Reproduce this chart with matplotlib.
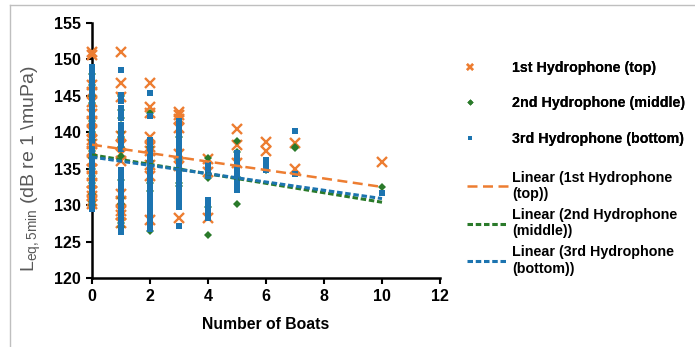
import numpy as np
import matplotlib
matplotlib.use("Agg")
from matplotlib import pyplot as plt
from matplotlib.lines import Line2D

plt.rcParams['font.family'] = ['Liberation Sans', 'DejaVu Sans']

# number of boats -> Leq,5min values
top_levels = {
    0: [151.0, 150.6, 146.5, 145.5, 144.2, 142.5, 141.5, 140.2, 139.0, 138.4,
        137.5, 136.0, 135.0, 134.0, 133.0, 132.0, 131.2, 130.6, 130.1],
    1: [151.0, 146.7, 144.8, 139.5, 138.2, 137.0, 136.0, 131.5, 130.6, 129.2,
        128.6, 127.6],
    2: [146.8, 143.5, 142.6, 139.3, 138.0, 137.4, 135.5, 134.0, 128.0],
    3: [142.8, 142.4, 141.8, 140.6, 137.0, 135.4, 128.2],
    4: [136.3, 134.6, 128.3],
    5: [140.4, 138.2, 135.8],
    6: [138.7, 137.5],
    7: [138.5, 134.9],
    10: [135.9],
}
middle_levels = {
    0: [148.0, 146.5, 145.0, 144.0, 141.5, 140.0, 139.0, 137.5, 136.5, 135.0,
        134.0, 133.0, 131.5, 130.5, 130.0],
    1: [145.0, 143.0, 142.0, 140.0, 139.4, 138.0, 136.8, 133.5, 131.0, 130.2,
        127.5, 127.0],
    2: [142.6, 138.0, 136.0, 133.0, 132.0, 126.5],
    3: [139.3, 136.2, 133.0, 132.6],
    4: [136.5, 133.7, 129.8, 125.9],
    5: [138.8, 137.3, 133.9, 130.2],
    6: [134.8],
    7: [138.0, 137.8],
    10: [132.5],
}
bottom_levels = {
    0: [149.0, 148.4, 147.6, 147.0, 146.2, 145.4, 144.9, 144.3, 143.8, 143.1,
        142.6, 142.0, 141.4, 140.9, 140.3, 139.8, 139.2, 138.7, 138.1, 137.6,
        137.0, 136.4, 135.9, 135.3, 134.8, 134.2, 133.7, 133.1, 132.6, 132.0,
        131.5, 130.9, 130.4, 129.8, 129.5],
    1: [148.5, 145.1, 144.3, 143.4, 142.7, 141.9, 141.0, 140.2, 139.4, 138.5,
        137.7, 134.8, 134.0, 133.2, 132.4, 131.6, 130.8, 130.0, 129.2, 128.4,
        127.6, 126.9, 126.3],
    2: [145.4, 142.2, 139.0, 138.2, 137.4, 136.6, 135.8, 135.0, 134.2, 133.4,
        132.6, 131.8, 131.0, 130.2, 129.4, 128.6, 127.8, 127.0, 126.7],
    3: [141.6, 140.8, 140.0, 139.2, 138.4, 137.6, 136.8, 136.0, 135.2, 134.4,
        133.6, 132.8, 132.0, 131.2, 130.5, 129.8, 127.2],
    4: [135.5, 134.8, 134.0, 130.7, 129.9, 129.1, 128.3],
    5: [137.2, 136.4, 135.6, 134.8, 134.0, 133.2, 132.6, 132.1],
    6: [136.2, 135.5, 134.8],
    7: [140.2, 134.3],
    10: [131.6],
}

# linear trendlines: value at 0 boats and at 10 boats
trend_x = [0, 10]
trend_top = [138.3, 132.5]
trend_middle = [136.9, 130.4]
trend_bottom = [136.6, 130.9]

c_top = "#ED7D31"
c_mid = "#2A7A2A"
c_bot = "#1C74B0"

fig = plt.figure(figsize=(6.95, 3.47), dpi=100)
ax = fig.add_axes([92 / 695, 1 - 278 / 347, 348 / 695, 255 / 347])


def flatten(levels):
    xs, ys = [], []
    for boats, vals in levels.items():
        xs += [boats] * len(vals)
        ys += vals
    return xs, ys


x1, y1 = flatten(top_levels)
x2, y2 = flatten(middle_levels)
x3, y3 = flatten(bottom_levels)

ax.plot(x1, y1, "x", color=c_top, ms=6.5, mew=1.7, clip_on=False, zorder=3,
        label="1st Hydrophone (top)")
ax.plot(x2, y2, "D", color=c_mid, ms=4.2, mew=0, clip_on=False, zorder=4,
        label="2nd Hydrophone (middle)")
ax.plot(x3, y3, "s", color=c_bot, ms=4.5, mew=0, clip_on=False, zorder=5,
        label="3rd Hydrophone (bottom)")

ax.plot(trend_x, trend_top, color=c_top, lw=1.8, dashes=(4, 2.2), zorder=6,
        label="Linear (1st Hydrophone\n(top))")
ax.plot(trend_x, trend_middle, color=c_mid, lw=2.2, dashes=(1.8, 0.9), zorder=6,
        label="Linear (2nd Hydrophone\n(middle))")
ax.plot(trend_x, trend_bottom, color=c_bot, lw=2.2, dashes=(1.8, 0.9), zorder=7,
        label="Linear (3rd Hydrophone\n(bottom))")

ax.set_xlim(0, 12)
ax.set_ylim(120, 155)
ax.set_xticks(np.arange(0, 13, 2))
ax.set_yticks(np.arange(120, 156, 5))
ax.spines["top"].set_visible(False)
ax.spines["right"].set_visible(False)
for s in ("left", "bottom"):
    ax.spines[s].set_linewidth(1.8)
ax.tick_params(direction="out", length=4, width=1.5, labelsize=11.5, pad=4)
for lab in ax.get_xticklabels() + ax.get_yticklabels():
    lab.set_fontweight("bold")

ax.set_xlabel("Number of Boats", fontsize=11.3, fontweight="bold", labelpad=9)
ax.set_ylabel(r"$\mathregular{L_{eq,5min}}$ (dB re 1 \muPa)", fontsize=14,
              color="#595959")
ax.yaxis.set_label_coords(-0.141, 0.43)

h, lbl = ax.get_legend_handles_labels()
leg1 = fig.legend(h[:3], lbl[:3], loc="upper left", bbox_to_anchor=(450 / 695, 1 - 55 / 347),
                  frameon=False, prop={"size": 10.3, "weight": "bold"}, labelspacing=1.5,
                  handlelength=2.0, handletextpad=1.9, borderaxespad=0, markerscale=0.75)
leg2 = fig.legend(h[3:], lbl[3:], loc="upper left", bbox_to_anchor=(461 / 695, 1 - 165 / 347),
                  frameon=False, prop={"size": 10.3, "weight": "bold"}, labelspacing=0.5,
                  handlelength=2.87, handletextpad=0.28, borderaxespad=0)
fig.add_artist(leg1)

# chart border (left and top edges visible)
fig.add_artist(Line2D([10 / 695, 10 / 695], [0, 1 - 5 / 347], transform=fig.transFigure,
                      color="#BFBFBF", lw=1))
fig.add_artist(Line2D([10 / 695, 1], [1 - 5 / 347, 1 - 5 / 347], transform=fig.transFigure,
                      color="#BFBFBF", lw=1))

fig.savefig("out.png", dpi=100)
